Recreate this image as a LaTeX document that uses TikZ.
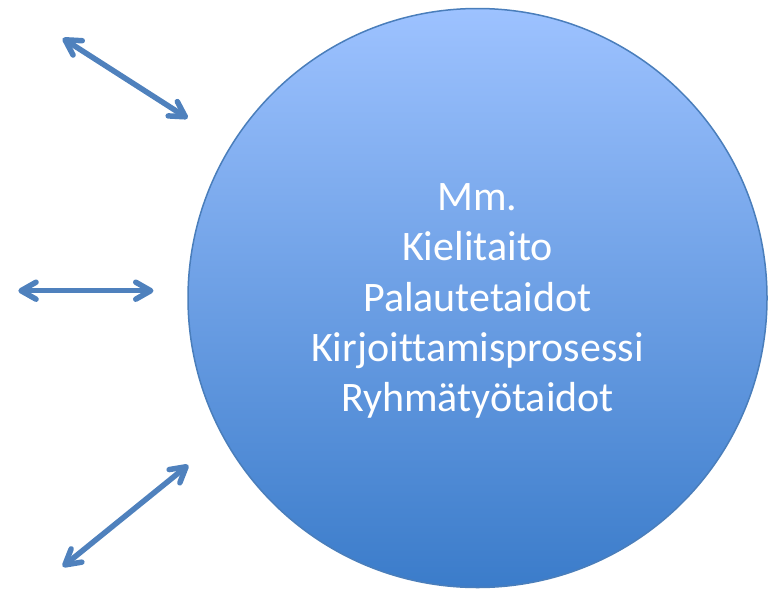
\documentclass[tikz,border=0pt]{standalone}
\usepackage{fontspec}
\setmainfont{Carlito}[Ligatures={NoCommon}]
\usetikzlibrary{arrows.meta}
\definecolor{arrowblue}{HTML}{4F81BD}
\definecolor{edgeblue}{HTML}{4A7EBB}
\definecolor{topblue}{HTML}{9DC2FF}
\definecolor{botblue}{HTML}{3B7CCA}
\tikzset{
  bigcircle/.style={circle, draw=edgeblue, line width=1.5pt, top color=topblue, bottom color=botblue, minimum size=579pt, inner sep=0pt},
  barbtip/.tip={Straight Barb[length=15pt,width=17pt,round]},
  dblarrow/.style={draw=arrowblue, line width=5.5pt, barbtip-barbtip},
  lbl/.style={text=white, align=center, font=\fontsize{42}{50.3}\selectfont}
}
\begin{document}
\begin{tikzpicture}[x=1pt,y=-1pt]
\useasboundingbox (0,0) rectangle (775,589);
\node[bigcircle] (c) at (477.5,298) {};
\node[lbl] (t) at (477.5,301) {Mm.\\Kielitaito\\Palautetaidot\\Kirjoittamisprosessi\\Ryhmätyötaidot};
\coordinate (a1s) at (62.7,38.3);
\coordinate (a1e) at (187.7,118.3);
\coordinate (a2s) at (18.3,290.7);
\coordinate (a2e) at (153.5,290.7);
\coordinate (a3s) at (62.7,566.7);
\coordinate (a3e) at (188.3,465);
\draw[dblarrow] (a1s) -- (a1e);
\draw[dblarrow] (a2s) -- (a2e);
\draw[dblarrow] (a3s) -- (a3e);
\end{tikzpicture}
\end{document}
